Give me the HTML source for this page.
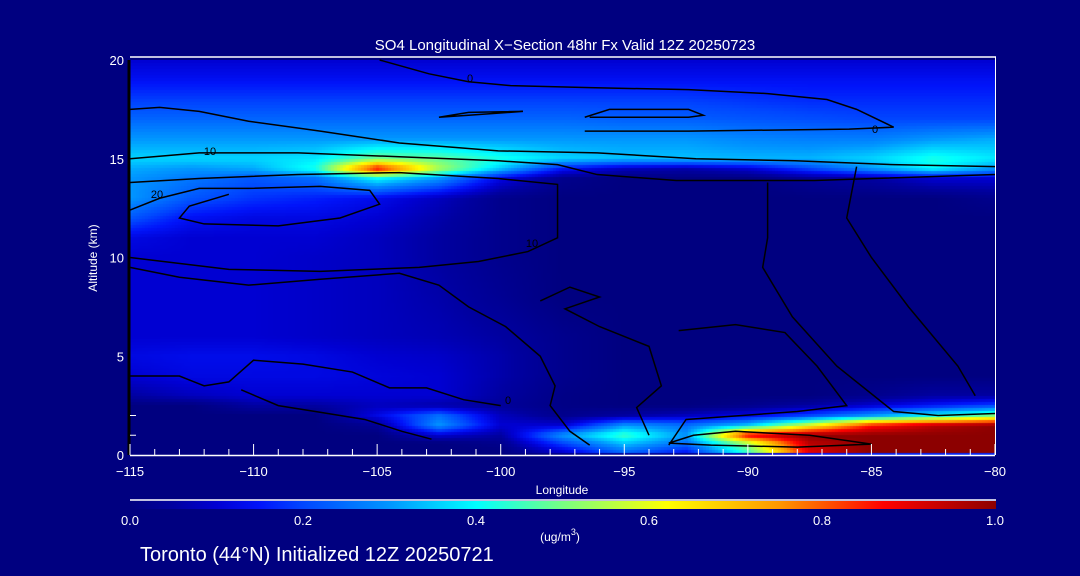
<!DOCTYPE html>
<html><head><meta charset="utf-8"><style>
body{margin:0;background:#000080;width:1080px;height:576px;overflow:hidden;position:relative;font-family:"Liberation Sans",sans-serif;color:#fff}
#heat{position:absolute;left:130px;top:60px}
svg{position:absolute;left:0;top:0}
</style></head><body>
<canvas id="heat" width="865" height="395"></canvas>
<svg id="s" width="1080" height="576"></svg>
<script>
const lons=[-115,-112.5,-110,-107.5,-105,-102.5,-100,-97.5,-95,-92.5,-90,-87.5,-85,-82.5,-80];
const alts=[0,0.15,0.6,1,1.5,2,2.5,3,4,5,6,8,10,11,12,13,14,14.5,15,16,17,18,19,20];
const z0=[0,0,0,0,0,0,0,0,0,0,0,0,0,0,0];
const z03=[0,0,0,0,0,0,0,.1,.25,.15,.45,.9,1,1,1];
const z06=[0,0,0,0,0,0,.02,.2,.35,.25,.55,.95,1,1,1];
const z1=[0,0,0,0,0,.1,.05,.3,.45,.3,.9,1,1,1,1];
const z15=[0,0,0,0,.03,.3,.1,.1,.3,.25,.35,.6,.85,.95,1];
const z2=[0,0,0,0,.12,.25,.08,.02,.05,.08,.12,.2,.3,.4,.5];
const z25=[0,0,.05,.05,.08,.06,.04,.01,0,0,.02,.05,.1,.15,.2];
const z3=[.05,.08,.1,.1,.1,.1,.05,.01,0,0,0,0,.02,.05,.05];
const z4=[.1,.12,.12,.12,.11,.1,.06,.02,0,0,0,0,0,0,0];
const z5=[.12,.13,.13,.12,.1,.09,.06,.02,0,0,0,0,0,0,0];
const z6=[.1,.1,.1,.09,.08,.07,.05,.02,0,0,0,0,0,0,0];
const z8=[.1,.1,.1,.09,.08,.06,.03,0,0,0,0,0,0,0,0];
const z10=[.1,.1,.1,.09,.08,.05,.02,0,0,0,0,0,0,0,0];
const z11=[.12,.1,.1,.1,.08,.05,.02,0,0,0,0,0,0,0,0];
const z12=[.22,.14,.12,.12,.1,.06,.02,0,0,0,0,0,0,0,0];
const z13=[.3,.22,.18,.16,.13,.08,.02,0,0,0,0,0,0,0,.02];
const z14=[.3,.26,.22,.25,.4,.3,.12,.02,0,0,0,.03,.05,.1,.1];
const z145=[.32,.3,.32,.42,.88,.55,.35,.15,.08,.06,.1,.2,.3,.4,.3];
const z15k=[.36,.36,.36,.38,.5,.48,.42,.36,.34,.34,.33,.33,.36,.42,.38];
const z16=[.3,.3,.3,.3,.3,.3,.3,.3,.3,.3,.28,.27,.27,.3,.32];
const z17=[.24,.24,.24,.24,.24,.24,.24,.24,.23,.23,.22,.21,.2,.2,.2];
const z18=[.19,.19,.19,.19,.19,.19,.19,.19,.19,.19,.18,.17,.17,.17,.17];
const z19=[.14,.14,.14,.14,.14,.14,.14,.14,.14,.14,.14,.14,.14,.14,.14];
const z20=[.1,.1,.1,.1,.1,.1,.1,.1,.1,.1,.1,.1,.1,.1,.1];
const grid=[z0,z03,z06,z1,z15,z2,z25,z3,z4,z5,z6,z8,z10,z11,z12,z13,z14,z145,z15k,z16,z17,z18,z19,z20];
const xTicks=[-115,-110,-105,-100,-95,-90,-85,-80];
const yTicks=[0,5,10,15,20];
const cbTicks=["0.0","0.2","0.4","0.6","0.8","1.0"];
const cTop=[[-104.9,20],[-102.9,19.3],[-101.3,18.9],[-99.6,18.7],[-96.4,18.6],[-92.4,18.5],[-89.2,18.3],[-86.8,18],[-85.6,17.5],[-84.1,16.6],[-85.9,16.5],[-92.4,16.4],[-96.6,16.4]];
const cLoopA=[[-102.5,17.1],[-101.3,17.35],[-99.1,17.4],[-101.3,17.2],[-102.5,17.1]];
const cLoopB=[[-96.6,17.1],[-95.6,17.5],[-92.4,17.5],[-91.8,17.2],[-92.4,17.1],[-96.4,17.1]];
const c0b=[[-115,17.5],[-113.8,17.6],[-112.2,17.4],[-110.2,16.9],[-107.3,16.4],[-104.1,15.8],[-100.1,15.4],[-96.1,15.3],[-92.1,15],[-88.1,14.9],[-84.1,14.7],[-80,14.6]];
const c10=[[-115,15],[-112.2,15.3],[-108.2,15.3],[-104.1,15.1],[-100.1,14.9],[-97.7,14.7],[-96.1,14.2],[-92.9,13.9],[-90.1,13.9],[-87.3,13.9],[-84.9,14],[-80,14.2]];
const c20a=[[-115,13.8],[-112.2,14],[-108.2,14.2],[-104.1,14.3],[-100.1,14],[-97.7,13.7],[-97.7,11],[-98.9,10.3],[-100.9,9.8],[-103.3,9.5],[-107.3,9.3],[-111,9.4],[-115,10]];
const c20b=[[-115,12.4],[-113.8,13],[-112.2,13.5],[-110.2,13.5],[-107.3,13.6],[-105.3,13.4],[-104.9,12.7],[-106.5,12],[-109,11.6],[-112,11.7],[-113,12],[-112.6,12.6],[-111,13.2]];
const c10b=[[-115,9.5],[-113,9],[-110.2,8.6],[-107.3,8.9],[-104.1,9.2],[-102.5,8.6],[-101.3,7.5],[-99.8,6.5],[-98.4,5],[-97.8,3.5],[-98,2.5],[-97.2,1.2],[-96.4,0.5]];
const cR1=[[-89.2,13.8],[-89.2,11],[-89.4,9.5],[-88.2,7],[-86.4,4.5],[-84.1,2.2],[-82.3,2],[-80,2.1]];
const cR2=[[-85.6,14.6],[-86,12],[-85,10],[-83.5,7.5],[-81.5,4.5],[-80.8,3]];
const cM=[[-98.4,7.8],[-97.2,8.5],[-96,8],[-97.4,7.4],[-96,6.5],[-94,5.5],[-93.5,3.5],[-94.5,2.4],[-94,1]];
const cM2=[[-92.8,6.3],[-90.5,6.6],[-88.5,6.2],[-87.2,4.5],[-86,2.5],[-88,2.2],[-92.5,1.8],[-93.2,0.5]];
const cLow=[[-115,4],[-113,4],[-112,3.5],[-111,3.7],[-110,4.8],[-108,4.6],[-106,4.2],[-104.5,3.4],[-103,3.4],[-101.5,2.8],[-100,2.5]];
const cLow2=[[-110.5,3.3],[-109,2.5],[-107.5,2.2],[-105.5,1.8],[-104,1.2],[-102.8,0.8]];
const cRed=[[-93.2,0.6],[-92.2,1],[-90.5,1.2],[-87.5,1],[-85,0.55],[-88,0.4],[-91.5,0.5],[-93.2,0.6]];
const X=l=>130+(l+115)/35*865, Y=a=>455-a/20*395;
const stops=[[0,0,0,128],[.05,0,0,160],[.1,0,0,210],[.15,0,20,250],[.2,0,70,255],[.3,0,150,255],[.4,0,255,255],[.5,120,255,130],[.62,255,255,0],[.75,255,150,0],[.87,255,0,0],[1,140,0,0]];
function cmap(v){v=Math.max(0,Math.min(1,v));for(let i=1;i<stops.length;i++){if(v<=stops[i][0]){const a=stops[i-1],b=stops[i],t=(v-a[0])/(b[0]-a[0]);return `rgb(${[1,2,3].map(k=>Math.round(a[k]+(b[k]-a[k])*t)).join(',')})`;}}return 'rgb(140,0,0)';}
function seg(arr,v){for(let i=0;i<arr.length-1;i++)if(v<=arr[i+1])return [i,(v-arr[i])/(arr[i+1]-arr[i])];return [arr.length-2,1];}
function field(l,a){const [i,t]=seg(lons,l),[j,u]=seg(alts,a);const g=grid;return (1-u)*((1-t)*g[j][i]+t*g[j][i+1])+u*((1-t)*g[j+1][i]+t*g[j+1][i+1]);}
const ctx=document.getElementById('heat').getContext('2d');
const cs=3;
for(let px=0;px<865;px+=cs)for(let py=0;py<395;py+=cs){const l=-115+(px+cs/2)/865*35,a=(395-py-cs/2)/395*20;ctx.fillStyle=cmap(field(l,a));ctx.fillRect(px,py,cs,cs);}
const s=document.getElementById('s'),NS='http://www.w3.org/2000/svg';
function mk(t,at,txt){const e=document.createElementNS(NS,t);for(const k in at)e.setAttribute(k,at[k]);if(txt!==undefined)e.textContent=txt;s.appendChild(e);return e;}
const contours=[cTop,cLoopA,cLoopB,c0b,c10,c20a,c20b,c10b,cR1,cR2,cM,cM2,cLow,cLow2,cRed];
contours.forEach(c=>{const e=mk('polyline',{points:c.map(p=>X(p[0])+','+Y(p[1])).join(' '),fill:'none',stroke:'#000',"stroke-width":1.5});

});
[["0",470,82],["0",875,133],["10",210,155],["20",157,198],["10",532,247],["0",508,404]].forEach(d=>{const e=mk('text',{x:d[1],y:d[2],fill:'#000','font-size':11,'text-anchor':'middle'},d[0]);});
let e=mk('line',{x1:130,y1:57,x2:996,y2:57,stroke:'#fff','stroke-width':1.5});
e=mk('line',{x1:995.5,y1:57,x2:995.5,y2:455,stroke:'#fff','stroke-width':1});
e=mk('line',{x1:129,y1:60,x2:129,y2:455,stroke:'#000','stroke-width':3});
e=mk('line',{x1:130,y1:455.5,x2:995,y2:455.5,stroke:'#fff','stroke-width':1.5});
for(let l=-115;l<=-80;l++){const mj=(l%5===0);const t=mk('line',{x1:X(l),y1:455,x2:X(l),y2:mj?444:449,stroke:'#fff'});}
xTicks.forEach(v=>{const t=mk('text',{x:X(v),y:476,'font-size':13,fill:'#fff','text-anchor':'middle'},String(v).replace('-','\u2212'));});
yTicks.forEach(v=>{const t=mk('text',{x:124,y:Y(v)+5,'font-size':13,fill:'#fff','text-anchor':'end'},v);});
[1,2].forEach(v=>{const t=mk('line',{x1:130,y1:Y(v),x2:136,y2:Y(v),stroke:'#fff'});});
e=mk('text',{x:562,y:494,'font-size':12,fill:'#fff','text-anchor':'middle'},'Longitude');
e=mk('text',{x:97,y:258,'font-size':12,fill:'#fff','text-anchor':'middle',transform:'rotate(-90 97 258)'},'Altitude (km)');
e=mk('text',{x:565,y:50,'font-size':15,fill:'#fff','text-anchor':'middle'},'SO4 Longitudinal X\u2212Section 48hr  Fx Valid 12Z 20250723');
const defs=mk('defs',{});const lg=document.createElementNS(NS,'linearGradient');lg.setAttribute('id','cb');defs.appendChild(lg);
stops.forEach(st=>{const o=document.createElementNS(NS,'stop');o.setAttribute('offset',st[0]);o.setAttribute('stop-color',`rgb(${st[1]},${st[2]},${st[3]})`);lg.appendChild(o);});
e=mk('line',{x1:130,y1:500,x2:996,y2:500,stroke:'#fff','stroke-width':1.5});
e=mk('rect',{x:130,y:501,width:866,height:8,fill:'url(#cb)'});
cbTicks.forEach((v,i)=>{const t=mk('text',{x:130+i*173,y:525,'font-size':13,fill:'#fff','text-anchor':'middle'},v);});
e=mk('text',{x:560,y:541,'font-size':12,fill:'#fff','text-anchor':'middle'},'(ug/m');
const sup=document.createElementNS(NS,'tspan');sup.setAttribute('dy','-6');sup.setAttribute('font-size','9');sup.textContent='3';e.appendChild(sup);
const cl=document.createElementNS(NS,'tspan');cl.setAttribute('dy','6');cl.textContent=')';e.appendChild(cl);
e=mk('text',{x:140,y:561,'font-size':20,fill:'#fff'},'Toronto (44\u00b0N) Initialized 12Z 20250721');
</script>
</body></html>
